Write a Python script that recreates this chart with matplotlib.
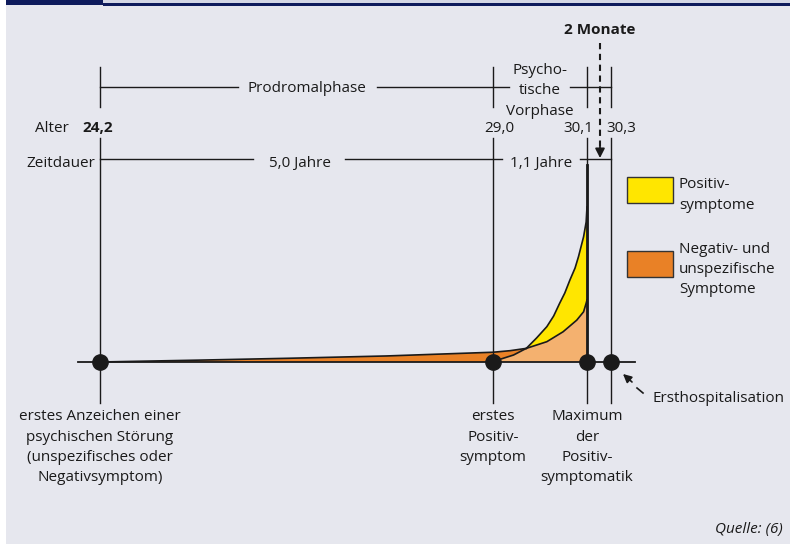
import matplotlib.pyplot as plt
import numpy as np
from matplotlib.patches import Rectangle
from matplotlib.transforms import blended_transform_factory

plt.rcParams['font.family'] = ['Open Sans', 'DejaVu Sans']

# --- data ------------------------------------------------------------------
# ages (years) of the four key events
event_ages = [24.2, 29.0, 30.1, 30.3]
age_labels = ['24,2', '29,0', '30,1', '30,3']
event_notes = ['erstes Anzeichen einer\npsychischen Störung\n(unspezifisches oder\nNegativsymptom)',
               'erstes\nPositiv-\nsymptom',
               'Maximum\nder\nPositiv-\nsymptomatik']
phase_labels = ['Prodromalphase', 'Psycho-\ntische\nVorphase']
duration_labels = ['5,0 Jahre', '1,1 Jahre']
legend_labels = ['Positiv-\nsymptome', 'Negativ- und\nunspezifische\nSymptome']

# negative / unspecific symptoms, upper edge (age, intensity)
neg_age = [24.2, 25.4, 26.5, 27.7, 29.0, 29.2, 29.39]
neg_val = [0, 1.2, 2.4, 3.9, 6.3, 7.3, 8.8]
# positive symptoms, lower edge
pos_lo_age = [29.0, 29.08, 29.24, 29.39, 29.63, 29.82, 29.98, 30.06, 30.09, 30.10]
pos_lo_val = [0, 1.7, 4.5, 8.8, 13.1, 19.5, 27.0, 32.4, 37.9, 40.0]
# positive symptoms, upper edge
pos_hi_age = [29.39, 29.51, 29.63, 29.71, 29.78, 29.84, 29.90, 29.96, 30.00, 30.06, 30.09, 30.10]
pos_hi_val = [8.8, 15.5, 22.8, 29.7, 37.9, 44.5, 52.9, 60.6, 67.9, 80.8, 90.3, 100]

# --- style / layout -------------------------------------------------------
W, H = 790, 544
BG = '#e6e7ee'
NAVY = '#0e1b5c'
INK = '#1a1a1a'
YELLOW = '#ffe600'
ORANGE = '#e98126'
LIGHT_ORANGE = '#f4b16f'
FS = 11
STEP = 20.3  # pixel distance between text lines

# the time axis is schematic (not to scale): anchor ages to pixel columns
axis_ages = [23.0, 24.2, 29.0, 30.1, 30.3, 31.5]
axis_px = [0, 100, 493, 587, 611, 790]
base_px = 362       # pixel row of the time line
px_per_unit = 1.55  # pixels per intensity unit


def fwd(a):
    return np.interp(a, axis_ages, axis_px)


def inv(p):
    return np.interp(p, axis_px, axis_ages)


fig = plt.figure(figsize=(W / 100, H / 100), dpi=100, facecolor='white')

bg = fig.add_axes([0, 0, 1, 1])
bg.set_xlim(0, W)
bg.set_ylim(H, 0)
bg.axis('off')
bg.add_patch(Rectangle((6, 0), W - 6, H, color=BG, lw=0))
bg.add_patch(Rectangle((103, 0), W - 103, 3.5, color='#d4d7e5', lw=0))
bg.add_patch(Rectangle((103, 3.3), W - 103, 2.8, color=NAVY, lw=0))
bg.add_patch(Rectangle((6, 0), 97, 5, color=NAVY, lw=0))

ax = fig.add_axes([0, 0, 1, 1])
ax.set_xscale('function', functions=(fwd, inv))
ax.set_xlim(axis_ages[0], axis_ages[-1])
ax.set_ylim(-(H - base_px) / px_per_unit, base_px / px_per_unit)
ax.axis('off')
ax.patch.set_visible(False)

pxT = bg.transData
ev = blended_transform_factory(ax.transData, bg.transData)


def put(x, y, s, transform=pxT, **kw):
    """Write (multi-line) text, y is the baseline of the first line in pixels."""
    for i, line in enumerate(s.split('\n')):
        ax.text(x, y + i * STEP, line, va='baseline', transform=transform,
                fontsize=FS, color=INK, zorder=7, **kw)


# symptom areas
k = pos_lo_age.index(neg_age[-1])
ax.fill(np.r_[neg_age, pos_lo_age[k::-1]], np.r_[neg_val, pos_lo_val[k::-1]],
        color=ORANGE, lw=0, zorder=2)
ax.fill(np.r_[pos_lo_age, pos_lo_age[-1]], np.r_[pos_lo_val, 0],
        color=LIGHT_ORANGE, lw=0, zorder=2)
ax.fill(np.r_[pos_hi_age, pos_lo_age[:k - 1:-1]], np.r_[pos_hi_val, pos_lo_val[:k - 1:-1]],
        color=YELLOW, lw=0, zorder=2)
for xs, ys in [(neg_age, neg_val), (pos_lo_age, pos_lo_val), (pos_hi_age, pos_hi_val)]:
    ax.plot(xs, ys, color=INK, lw=1.2, zorder=3, solid_joinstyle='round')

# event lines
for a in event_ages:
    ax.plot([a, a], [67, 107], color=INK, lw=1.0, transform=ev, zorder=4)
    ax.plot([a, a], [138, 403], color=INK, lw=1.0, transform=ev, zorder=4)
ax.plot([event_ages[2]] * 2, [165, base_px], color=INK, lw=2.0, transform=ev, zorder=4)
ax.plot([78, 635], [base_px, base_px], color=INK, lw=1.3, transform=pxT, zorder=4)
ax.plot(event_ages, [0] * len(event_ages), 'o', ms=11, color=INK, zorder=6)

# brackets
for x0, x1 in [(100, 238), (377, 509), (570, 611)]:
    ax.plot([x0, x1], [87, 87], color=INK, lw=1.0, transform=pxT, zorder=4)
for x0, x1 in [(100, 253), (345, 502), (580, 611)]:
    ax.plot([x0, x1], [159, 159], color=INK, lw=1.0, transform=pxT, zorder=4)

put(307, 91.7, phase_labels[0], ha='center')
put(540, 74, phase_labels[1], ha='center')
put(69, 131.7, 'Alter', ha='right')
label_px = [98, 499, 578, 621]
for i, (lab, x) in enumerate(zip(age_labels, label_px)):
    put(x, 131.7, lab, ha='center', fontweight='bold' if i == 0 else 'normal')
put(95, 167, 'Zeitdauer', ha='right')
put(300, 167, duration_labels[0], ha='center')
put(541, 167, duration_labels[1], ha='center')

# 2 Monate
put(600, 34, '2 Monate', ha='center', fontweight='bold')
ax.plot([600, 600], [43, 150], color=INK, lw=1.5, ls=(0, (3, 2.2)), transform=pxT, zorder=5)
ax.annotate('', xy=(600, 158), xytext=(600, 147), xycoords=pxT, textcoords=pxT,
            arrowprops=dict(arrowstyle='-|>,head_length=0.55,head_width=0.28',
                            color=INK, lw=1.3, shrinkA=0, shrinkB=0), zorder=5)

# event notes
for a, note in zip(event_ages, event_notes):
    put(a, 420.5, note, transform=ev, ha='center')

# Ersthospitalisation
put(652, 402.5, 'Ersthospitalisation', ha='left')
ax.plot([637, 643], [388, 393], color=INK, lw=1.2, transform=pxT, zorder=5)
ax.annotate('', xy=(623, 374), xytext=(632, 382), xycoords=pxT, textcoords=pxT,
            arrowprops=dict(arrowstyle='-|>,head_length=0.5,head_width=0.25',
                            color=INK, lw=1.2, shrinkA=0, shrinkB=0), zorder=5)

# legend
for (y0, col) in [(177, YELLOW), (251, ORANGE)]:
    ax.add_patch(Rectangle((627, y0), 46, 26, facecolor=col, edgecolor='#333333',
                           lw=1.0, transform=pxT, zorder=5))
put(679, 188.3, legend_labels[0], ha='left')
put(679, 252.7, legend_labels[1], ha='left')

put(783, 533, 'Quelle: (6)', ha='right', style='italic')

fig.savefig('out.png', dpi=100, facecolor='white')
